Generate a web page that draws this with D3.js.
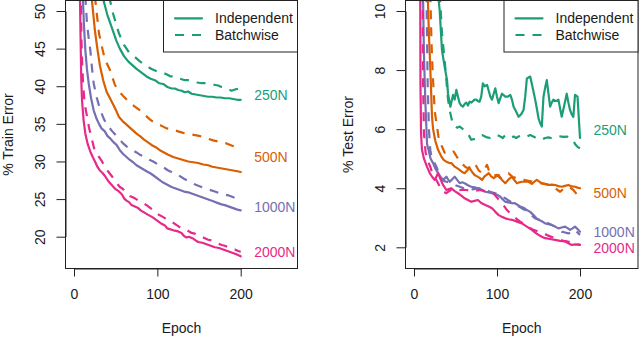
<!DOCTYPE html>
<html><head><meta charset="utf-8">
<script src="https://cdn.jsdelivr.net/npm/d3@7"></script>
<style>
html,body{margin:0;padding:0;background:#fff;}
svg{display:block;font-family:"Liberation Sans",Arial,Helvetica,sans-serif;}
</style></head>
<body>
<svg id="chart" width="640" height="338"></svg>
<script>
// ---------- data ----------
const epochTicks = [0, 100, 200];
const trainTicks = [20, 25, 30, 35, 40, 45, 50];
const testTicks = [2, 4, 6, 8, 10];
const sizes = ["250N", "500N", "1000N", "2000N"];
const colors = ["#1B9E77", "#D95F02", "#7570B3", "#E7298A"];
const methods = ["Independent", "Batchwise"];
const trainLabelY = [38.9, 30.55, 24.0, 17.95];
const testLabelY = [5.97, 3.83, 2.53, 1.99];

// train error, [epoch, %]
const trainInd250 = [[34,52],[40,49.5],[46,47.6],[51,46.0],[55,45.0],[60,44.0],[65,43.3],[70,42.8],[75,42.3],[81,41.8],[87,41.3],[92,41.0],[97,40.8],[102,40.4],[107,40.3],[112,39.9],[117,39.7],[121,39.7],[125,39.5],[129,39.4],[133,39.2],[137,39.3],[141,39.0],[146,38.9],[151,38.8],[156,38.7],[161,38.6],[166,38.6],[171,38.5],[176,38.5],[181,38.4],[186,38.4],[191,38.3],[196,38.2],[200,38.2]];
const trainBat250 = [[42,52],[47,49.6],[54,47.0],[60,45.5],[66,44.5],[73,43.9],[79,43.3],[85,42.8],[93,42.3],[101,41.9],[106,41.8],[111,41.6],[116,41.3],[121,41.3],[127,41.0],[133,40.8],[138,40.8],[143,40.7],[148,40.5],[153,40.4],[158,40.4],[163,40.3],[168,40.2],[173,40.1],[177,39.9],[181,39.8],[185,39.6],[189,39.4],[194,39.6],[200,39.7]];
const trainInd500 = [[21,52],[25,47.5],[28,45.0],[31,42.8],[35,40.8],[39,39.3],[45,38.0],[50,36.9],[54,35.9],[58,35.4],[62,35.0],[68,34.4],[75,33.7],[80,33.3],[84,32.9],[88,32.6],[93,32.2],[98,31.9],[103,31.5],[108,31.2],[113,30.9],[119,30.6],[125,30.4],[131,30.2],[137,30.0],[143,29.9],[149,29.8],[155,29.6],[161,29.5],[166,29.3],[171,29.2],[176,29.1],[181,29.0],[186,28.9],[191,28.8],[196,28.7],[200,28.6]];
const trainBat500 = [[25,52],[30,47.0],[34,45.0],[37,43.6],[43,42.2],[49,40.2],[54,39.3],[59,38.7],[66,37.9],[73,37.3],[78,36.9],[83,36.4],[87,36.0],[91,35.6],[97,35.1],[104,34.8],[111,34.4],[117,34.3],[125,34.0],[131,33.8],[140,33.6],[150,33.4],[159,33.1],[167,32.8],[175,32.6],[183,32.4],[190,32.1],[195,31.9],[200,31.9]];
const trainInd1000 = [[10.5,52],[12,48.0],[13.6,44.8],[15.5,42.3],[17.6,40.4],[20.5,38.4],[23.6,36.8],[27,35.7],[30,35.0],[33,34.4],[37,34.0],[40,33.4],[44,33.0],[48,32.5],[51,32.2],[55,31.5],[59,31.0],[63,30.6],[67,30.2],[71,29.9],[75,29.5],[81,29.1],[87,28.7],[92,28.4],[97,28.0],[102,27.6],[107,27.2],[112,26.9],[117,26.6],[122,26.4],[127,26.2],[132,26.0],[137,25.9],[142,25.7],[147,25.5],[152,25.3],[157,25.1],[162,24.9],[167,24.7],[172,24.5],[177,24.3],[181,24.2],[186,24.0],[191,23.8],[196,23.6],[200,23.5]];
const trainBat1000 = [[13.5,52],[15.5,48.5],[17.5,46.5],[19.6,44.8],[21.5,42.5],[23.6,40.4],[27,38.6],[31.6,36.8],[36,35.6],[41.6,34.6],[46,34.0],[50,33.5],[55.6,32.8],[59,32.4],[63,32.0],[70,31.5],[75,31.2],[79,30.9],[83,30.7],[87,30.4],[91,30.2],[95,30.0],[102,29.5],[109,29.1],[113,28.8],[117,28.6],[121,28.4],[125,28.2],[132,27.7],[139,27.3],[146,26.9],[153,26.6],[161,26.3],[169,26.0],[177,25.7],[185,25.5],[192,25.2],[200,24.9]];
const trainInd2000 = [[7,53],[7.8,47],[8.7,41],[9.6,38.2],[11.5,35.5],[13.6,33.7],[16.5,32.3],[19.6,31.3],[22.5,30.6],[25.6,29.9],[28,29.3],[31,28.8],[34,28.5],[37.6,28.0],[41,27.4],[45,26.9],[49,26.4],[53,26.1],[57.6,25.6],[60,25.1],[63,24.8],[66,24.6],[69,24.2],[73,24.0],[77,23.8],[80,23.5],[83,23.3],[86,23.1],[89,22.9],[94,22.6],[99,22.2],[104,21.8],[109,21.5],[112,21.1],[115,21.0],[118,20.9],[121,20.8],[125,20.7],[129,20.5],[132,20.1],[135,19.9],[138,20.0],[142,19.8],[146,19.5],[149,19.3],[154,19.2],[159,19.0],[164,18.8],[169,18.6],[174,18.5],[179,18.3],[184,18.1],[189,17.9],[194,17.7],[200,17.4]];
const trainBat2000 = [[8,53],[9,46],[10,42.5],[11,40],[13,37.5],[15.6,36.0],[18,34.5],[21.6,32.9],[24,31.8],[27,31.0],[30,30.6],[33.6,30.0],[37,29.3],[40,28.8],[45,28.1],[49.6,27.4],[55,26.6],[58,26.4],[61.6,26.0],[67,25.4],[73,25.1],[76,24.9],[80,24.6],[84,24.4],[87,24.2],[93,23.7],[97,23.4],[100,23.0],[104,22.8],[107,22.6],[113,22.2],[117,22.0],[121,21.7],[125,21.4],[129,21.1],[135,20.9],[141,20.5],[145,20.4],[149,20.2],[155,19.9],[161,19.6],[165,19.5],[169,19.3],[173,19.1],[177,18.9],[181,18.8],[185,18.6],[189,18.4],[193,18.3],[197,18.1],[200,18.0]];

// test error, [epoch, %]
const testInd250 = [[29,10.6],[31,10.0],[33.7,8.68],[37,8.1],[39.8,7.66],[41,7.2],[43.8,6.76],[45,6.9],[47,7.16],[49,7.0],[51,7.33],[53,7.1],[55,6.88],[57,6.8],[59,6.76],[61,6.85],[63,6.9],[65,6.8],[67,6.93],[69,6.9],[71,6.95],[73,7.0],[75,7.0],[77,6.95],[79,6.93],[81,7.1],[83,7.55],[85,7.45],[88,7.5],[90,7.3],[92,7.1],[94,7.0],[96,7.2],[98,7.38],[100,7.1],[102,6.88],[104,7.05],[106,7.2],[108,7.15],[110,7.1],[113,7.1],[116,7.16],[118,7.0],[120,6.76],[123,6.6],[126,6.42],[129,6.5],[132,6.65],[134,7.1],[136,7.72],[138,7.75],[140,7.78],[143,7.4],[146,7.0],[148,6.7],[150,6.37],[152,6.2],[154,6.09],[156,7.1],[158,7.4],[160,7.66],[162,7.2],[164,6.76],[166,6.9],[168,7.0],[171,6.95],[174,7.0],[176,6.7],[178,6.42],[181,6.8],[184,7.2],[186,6.9],[188,6.65],[190,6.5],[192,6.42],[194,7.16],[197,7.1],[200,5.7]];
const testBat250 = [[31,10.6],[33.7,9.25],[37.7,8.1],[41,7.0],[43.8,6.54],[47,6.14],[49.8,6.09],[52,6.05],[55,6.09],[59,6.0],[63,5.92],[66,5.8],[69,5.64],[72,5.66],[75,5.7],[78,5.75],[82,5.8],[85,5.76],[88,5.72],[92,5.7],[96,5.75],[100,5.8],[104,5.75],[107,5.7],[110,5.8],[113,5.78],[116,5.72],[120,5.75],[123,5.7],[126,5.75],[129,5.78],[132,5.8],[136,5.75],[140,5.8],[143,5.76],[146,5.72],[149,5.68],[152,5.64],[155,5.66],[158,5.7],[162,5.72],[166,5.69],[169,5.7],[172,5.73],[175,5.76],[178,5.75],[181,5.74],[184,5.75],[187,5.72],[190,5.69],[192,5.62],[194,5.5],[197,5.4],[200,5.35]];
const testInd500 = [[16.5,10.6],[18,9.2],[19.6,8.1],[21.7,6.42],[23,6.0],[25.7,5.6],[29,5.3],[33,5.07],[36,4.95],[39,4.9],[42,4.86],[45,4.85],[49,4.73],[52,4.68],[55,4.62],[58,4.55],[61,4.51],[64,4.6],[67,4.68],[70,4.55],[73,4.45],[76,4.4],[79,4.35],[82,4.28],[85,4.4],[88,4.46],[90,4.51],[93,4.4],[96,4.34],[99,4.4],[102,4.45],[104,4.35],[106,4.28],[110,4.17],[114,4.3],[118,4.39],[121,4.27],[124,4.17],[127,4.2],[130,4.22],[134,4.22],[138,4.22],[142,4.15],[145,4.22],[148,4.28],[151,4.22],[154,4.17],[158,4.14],[162,4.11],[166,4.12],[170,4.11],[174,4.07],[178,4.05],[182,4.08],[186,4.11],[190,4.06],[194,4.05],[197,4.02],[200,4.0]];
const testBat500 = [[19.6,10.6],[21,9.0],[22.5,7.9],[25,6.6],[27.7,6.09],[30,5.64],[33.7,5.41],[37,5.2],[42,5.15],[45,5.2],[47.8,5.24],[52,5.05],[55,4.9],[59,4.8],[62,4.72],[65,4.68],[69,4.75],[73,4.85],[76,4.7],[78,4.6],[82,4.51],[85,4.65],[88,4.79],[90,4.62],[92,4.5],[96,4.42],[100,4.45],[104,4.34],[107,4.4],[109,4.45],[111,4.48],[114,4.51],[116,4.45],[119,4.38],[124,4.34],[128,4.3],[132,4.28],[138,4.25],[144,4.22],[148,4.2],[152,4.17],[158,4.15],[164,4.11],[167,4.06],[170,4.0],[173,3.94],[176,3.88],[179,3.95],[182,4.0],[186,4.05],[189,4.0],[192,3.94],[196,3.8],[200,3.66]];
const testInd1000 = [[10.8,10.6],[12,8.5],[13.6,6.99],[15.7,5.5],[17,5.35],[20,5.0],[23,4.85],[26,4.65],[29,4.51],[33,4.34],[36,4.3],[39,4.39],[41,4.3],[43,4.22],[46,4.3],[49,4.39],[52,4.28],[55,4.17],[58,4.2],[61,4.17],[65,4.1],[69,4.05],[73,4.03],[77,4.0],[82,3.95],[86,3.88],[90,3.86],[94,3.83],[100,3.78],[104,3.71],[107,3.62],[110,3.54],[114,3.52],[118,3.49],[121,3.5],[124,3.45],[128,3.38],[132,3.34],[136,3.26],[140,3.2],[144,3.09],[147,3.0],[150,2.93],[154,2.88],[158,2.81],[162,2.78],[166,2.76],[170,2.7],[174,2.64],[178,2.67],[182,2.7],[185,2.65],[188,2.59],[191,2.64],[194,2.7],[197,2.62],[200,2.53]];
const testBat1000 = [[15,10.6],[16.5,7.5],[18,6.0],[19.6,5.3],[21,5.07],[24,4.9],[27,4.73],[30,4.5],[33,4.28],[36,4.25],[39,4.22],[42,4.2],[45,4.17],[50,4.1],[55,4.05],[60,4.0],[65,3.94],[70,3.96],[74,3.98],[78,4.0],[82,4.0],[86,3.95],[90,3.9],[94,3.86],[98,3.83],[101,3.8],[104,3.75],[107,3.7],[110,3.66],[113,3.6],[116,3.55],[119,3.49],[122,3.43],[125,3.4],[128,3.35],[131,3.3],[134,3.26],[137,3.2],[140,3.12],[143,3.05],[146,2.98],[149,2.95],[152,2.93],[155,2.9],[158,2.87],[161,2.82],[164,2.78],[167,2.74],[170,2.7],[174,2.62],[178,2.53],[182,2.5],[186,2.47],[190,2.52],[194,2.59],[197,2.5],[200,2.42]];
const testInd2000 = [[7.5,10.6],[7.8,7.5],[8.5,5.86],[9.6,5.3],[12,5.0],[15.6,4.73],[19,4.51],[22,4.38],[25,4.28],[29,4.51],[32,4.3],[35,4.11],[39,3.94],[42,3.97],[45,4.0],[49,3.9],[53,3.83],[57,3.75],[61,3.66],[65,3.6],[69,3.54],[73,3.57],[77,3.6],[81,3.5],[86,3.43],[90,3.38],[94,3.32],[98,3.2],[102,3.09],[106,3.03],[110,2.98],[114,2.95],[118,2.93],[124,2.87],[130,2.81],[136,2.7],[142,2.59],[146,2.5],[150,2.42],[154,2.36],[158,2.31],[164,2.28],[170,2.25],[176,2.22],[182,2.2],[186,2.14],[190,2.08],[195,2.1],[200,2.08]];
const testBat2000 = [[10.5,10.6],[11,7.5],[12,5.86],[14,5.2],[17,4.9],[20,4.7],[23,4.39],[27,4.28],[29,4.17],[33,3.94],[36,3.88],[39,3.83],[42,3.9],[45,3.95],[48,3.92],[52,3.9],[55,3.93],[58,3.95],[63,3.94],[67,3.92],[71,3.9],[75,3.92],[80,3.94],[84,3.9],[88,3.88],[92,3.85],[96,3.83],[98,3.75],[101,3.65],[104,3.55],[106,3.49],[109,3.38],[112,3.26],[116,3.15],[120,3.05],[124,2.95],[128,2.87],[132,2.8],[136,2.72],[140,2.65],[144,2.59],[148,2.55],[152,2.5],[156,2.46],[160,2.42],[164,2.37],[168,2.33],[172,2.29],[176,2.25],[180,2.22],[184,2.2],[188,2.17],[192,2.14],[196,2.1],[200,2.08]];

const trainSeries = [[trainInd250, trainBat250], [trainInd500, trainBat500], [trainInd1000, trainBat1000], [trainInd2000, trainBat2000]];
const testSeries = [[testInd250, testBat250], [testInd500, testBat500], [testInd1000, testBat1000], [testInd2000, testBat2000]];

// ---------- drawing ----------
const svg = d3.select("#chart");
const FONT = 14;
const TXT = "#1a1a1a";

function drawPanel(cfg) {
  const g = svg.append("g");
  const box = cfg.box; // {l,r,t,b}
  const x = d3.scaleLinear().domain([0, 200]).range([box.l + 9, box.l + 9 + cfg.xw]);
  const y = d3.scaleLinear().domain(cfg.yDom).range(cfg.yRange);

  const clipId = "clip" + cfg.id;
  svg.append("clipPath").attr("id", clipId).append("rect")
    .attr("x", box.l).attr("y", box.t).attr("width", box.r - box.l).attr("height", box.b - box.t);

  const line = d3.line().x(d => x(d[0])).y(d => y(d[1])).curve(d3.curveLinear);
  const lines = g.append("g").attr("clip-path", `url(#${clipId})`);
  // draw dashed first, then solid, in order of groups
  cfg.series.forEach((pair, i) => {
    pair.forEach((data, j) => {
      lines.append("path").datum(data)
        .attr("d", line)
        .attr("fill", "none")
        .attr("stroke", colors[i])
        .attr("stroke-width", 2.2)
        .attr("stroke-linejoin", "round")
        .attr("stroke-linecap", j === 0 ? "round" : "butt")
        .attr("stroke-dasharray", j === 0 ? null : "9,8");
    });
  });

  // box
  g.append("rect").attr("x", box.l + 0.5).attr("y", box.t + 0.5)
    .attr("width", box.r - box.l - 1).attr("height", box.b - box.t - 1)
    .attr("fill", "none").attr("stroke", "#222").attr("stroke-width", 1);

  // x axis
  const xa = g.append("g").attr("transform", `translate(0,${box.b - 0.5})`)
    .call(d3.axisBottom(x).tickValues(epochTicks).tickSize(8).tickSizeOuter(0).tickPadding(13).tickFormat(d3.format("d")));
  xa.select(".domain").attr("stroke", "#222");
  xa.selectAll(".tick line").attr("stroke", "#222");
  xa.selectAll("text").attr("font-size", FONT).attr("fill", TXT).attr("font-family", null);

  // y axis
  const ya = g.append("g").attr("transform", `translate(${box.l + 0.5},0)`)
    .call(d3.axisLeft(y).tickValues(cfg.yTicks).tickSize(9).tickSizeOuter(0).tickFormat(d3.format("d")));
  ya.select(".domain").attr("stroke", "#222");
  ya.selectAll(".tick line").attr("stroke", "#222");
  ya.selectAll("text").attr("font-size", FONT).attr("fill", TXT).attr("font-family", null)
    .attr("transform", "rotate(-90)").attr("x", 0).attr("y", -20.5).attr("dy", 0)
    .attr("text-anchor", "middle");

  // axis titles
  g.append("text").attr("x", (box.l + box.r) / 2).attr("y", 333)
    .attr("text-anchor", "middle").attr("font-size", FONT).attr("fill", TXT).text("Epoch");
  g.append("text").attr("transform", `translate(${box.l - 52.5},${(box.t + box.b) / 2}) rotate(-90)`)
    .attr("text-anchor", "middle").attr("font-size", FONT).attr("fill", TXT).text(cfg.ylabel);

  // series labels
  sizes.forEach((s, i) => {
    g.append("text").attr("x", x(200) + 13.5).attr("y", y(cfg.labelY[i]) + 5)
      .attr("font-size", FONT).attr("fill", colors[i]).text(s);
  });

  // legend
  const lg = g.append("g");
  const lx = box.r - 135;
  lg.append("rect").attr("x", lx + 0.5).attr("y", box.t + 0.5).attr("width", box.r - lx - 1).attr("height", 51.5)
    .attr("fill", "#fff").attr("stroke", "#222").attr("stroke-width", 1);
  methods.forEach((m, j) => {
    const yy = j === 0 ? 18.3 : 35;
    lg.append("line").attr("x1", lx + 12).attr("x2", lx + 39).attr("y1", yy).attr("y2", yy)
      .attr("stroke", colors[0]).attr("stroke-width", 2.2)
      .attr("stroke-linecap", j === 0 ? "round" : "butt")
      .attr("stroke-dasharray", j === 0 ? null : "9,8");
    lg.append("text").attr("x", lx + 52).attr("y", yy + 5).attr("font-size", FONT).attr("fill", TXT).text(m);
  });
}

drawPanel({id: "train", box: {l: 65, r: 298, t: 0, b: 269}, xw: 166.7,
  yDom: [20, 50], yRange: [236.7, 11], yTicks: trainTicks, series: trainSeries,
  labelY: trainLabelY, ylabel: "% Train Error"});
drawPanel({id: "test", box: {l: 405, r: 638.5, t: 0, b: 269}, xw: 166,
  yDom: [2, 10], yRange: [247.3, 11], yTicks: testTicks, series: testSeries,
  labelY: testLabelY, ylabel: "% Test Error"});
</script>
</body></html>
